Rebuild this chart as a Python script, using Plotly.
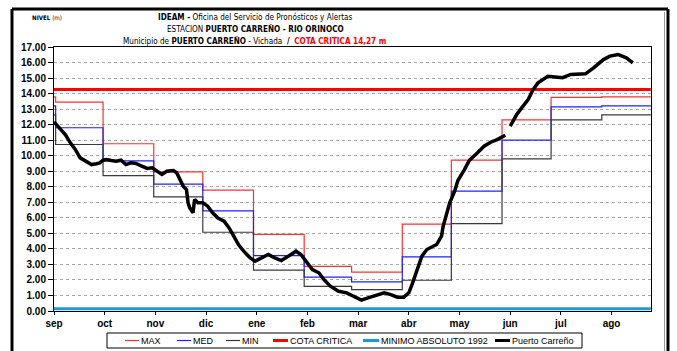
import plotly.graph_objects as go

# ---------------- data ----------------
months = ["sep", "oct", "nov", "dic", "ene", "feb", "mar", "abr", "may", "jun", "jul", "ago"]
# first day (index from 1 Sep) of each hydrological-year month (leap February)
month_start = [0, 30, 61, 91, 122, 153, 182, 213, 243, 274, 304, 335]
last_day = 365

# monthly statistics (m)
nivel_max = [13.45, 10.77, 8.96, 7.78, 4.93, 2.88, 2.50, 5.59, 9.71, 12.31, 13.75, 13.79]
nivel_med = [11.80, 9.67, 8.17, 6.45, 3.57, 2.18, 1.88, 3.49, 7.72, 11.00, 13.15, 13.21]
nivel_min = [10.72, 8.72, 7.35, 5.07, 2.63, 1.58, 1.38, 1.98, 5.62, 9.80, 12.31, 12.63]

cota_critica = 14.27
minimo_absoluto_1992 = 0.15

# observed level, Puerto Carreño (day index, m); None marks a gap in the record
pc_day = [0, 2, 4, 7, 10, 13, 16, 20, 23, 26, 28, 30, 32, 35, 38, 41, 44, 47, 50, 54,
          57, 60, 63, 66, 69, 73, 75, 77, 79, 81, 82, 83, 85, 86, 88, 91, 94, 97, 100, 104,
          107, 110, 113, 116, 119, 120, 123, 126, 131, 135, 139, 144, 148, 151, 155, 158,
          162, 165, 169, 174, 179, 183, 188, 192, 197, 202, 206, 210, 214, 217, 219, 221,
          223, 225, 228, 231, 234, 237, 238, 240, 242, 245, 247, 251, 254, 259, 263, 267,
          271, 276, 277, 279, 283, 286, 290, 293, 296, 302, 307, 311, 316, 321, 325, 330,
          336, 340, 345, 350, 354]
pc_level = [12.18, 11.95, 11.75, 11.35, 10.83, 10.40, 9.86, 9.58, 9.43, 9.48, 9.54, 9.71,
            9.76, 9.69, 9.65, 9.71, 9.43, 9.54, 9.50, 9.32, 9.18, 9.22, 9.00, 8.79, 9.00,
            9.05, 8.90, 8.47, 8.04, 7.82, 6.97, 6.65, 6.32, 7.18, 6.97, 6.97, 6.75, 6.32,
            6.00, 5.78, 5.36, 4.80, 4.25, 3.85, 3.50, 3.42, 3.21, 3.36, 3.64, 3.42, 3.25,
            3.57, 3.85, 3.64, 3.10, 2.67, 2.46, 2.03, 1.60, 1.27, 1.17, 0.95, 0.70, 0.85,
            1.02, 1.17, 1.06, 0.89, 0.89, 1.17, 1.71, 2.35, 2.88, 3.53, 3.96, 4.11, 4.28,
            4.82, 5.46, 6.21, 6.97, 7.71, 8.40, 9.10, 9.70, 10.19, 10.61, 10.87, 11.04,
            11.32, None, 11.90, 12.65, 13.08, 13.62, 14.26, 14.69, 15.12, 15.08, 15.02,
            15.23, 15.27, 15.27, 15.66, 16.19, 16.41, 16.52, 16.30, 15.98]

# ---------------- styles ----------------
series_style = {
    "MAX": dict(color="#ff3030", width=1.2),
    "MED": dict(color="#2020ff", width=1.2),
    "MIN": dict(color="#3a3a3a", width=1.2),
    "COTA CRITICA": dict(color="#ff0000", width=3),
    "MINIMO ABSOLUTO 1992": dict(color="#1c9ad6", width=3),
    "Puerto Carreño": dict(color="#000000", width=3.5),
}

FONT = "Liberation Sans, Arial, sans-serif"
NARROW = "DejaVu Sans Condensed, Liberation Sans, sans-serif"

fig = go.Figure()


def monthly_steps(values):
    # previous year's August value at day 0, then one level per month
    xs = [0] + [max(d, 1) for d in month_start] + [last_day]
    ys = [values[-1]] + values + [values[-1]]
    return xs, ys


for name, vals in [("MAX", nivel_max), ("MED", nivel_med), ("MIN", nivel_min)]:
    xs, ys = monthly_steps(vals)
    fig.add_trace(go.Scatter(x=xs, y=ys, mode="lines", name=name, line_shape="hv",
                             line=series_style[name], showlegend=False, hoverinfo="skip"))

fig.add_trace(go.Scatter(x=[0, last_day], y=[cota_critica] * 2, mode="lines",
                         name="COTA CRITICA", line=series_style["COTA CRITICA"],
                         showlegend=False))
fig.add_trace(go.Scatter(x=[0, last_day], y=[minimo_absoluto_1992] * 2, mode="lines",
                         name="MINIMO ABSOLUTO 1992",
                         line=series_style["MINIMO ABSOLUTO 1992"], showlegend=False))
fig.add_trace(go.Scatter(x=pc_day, y=pc_level, mode="lines", name="Puerto Carreño",
                         line=dict(series_style["Puerto Carreño"], shape="linear"),
                         connectgaps=False, showlegend=False))

W, H = 677, 351
ML, MR, MT, MB = 54, 26, 47, 40
PW, PH = W - ML - MR, H - MT - MB


def px_x(px):
    return (px - ML) / PW


def px_y(py):
    return (H - MB - py) / PH


fig.update_layout(
    width=W, height=H,
    margin=dict(l=ML, r=MR, t=MT, b=MB),
    paper_bgcolor="white", plot_bgcolor="white",
    font=dict(family=FONT, color="black"),
    showlegend=False,
)

fig.update_xaxes(
    range=[0, last_day + 0.1],
    tickmode="array",
    tickvals=[31 * i for i in range(len(months))],
    ticktext=[f"<b>{m}</b>" for m in months],
    tickfont=dict(size=10, family=FONT),
    ticks="outside", ticklen=3, tickcolor="black",
    showgrid=False, zeroline=False,
    showline=True, linecolor="black", linewidth=1, mirror=True,
)
fig.update_yaxes(
    range=[0, 17],
    tickmode="array",
    tickvals=list(range(0, 18)),
    ticktext=[f"<b>{v:.2f}</b>" for v in range(0, 18)],
    tickfont=dict(size=10, family=FONT),
    ticks="outside", ticklen=5, tickcolor="black",
    showgrid=True, gridcolor="#a8a8a8", gridwidth=1, griddash="dot",
    zeroline=False,
    showline=True, linecolor="black", linewidth=1, mirror=True,
)

# titles
tx = px_x(255)
title_size = 8.1
cota_txt = f"{cota_critica:.2f}".replace(".", ",")
fig.add_annotation(xref="paper", yref="paper", x=tx, y=px_y(17), xanchor="center",
                   yanchor="middle", showarrow=False,
                   text="<b>IDEAM -</b> Oficina del Servicio de Pronósticos y Alertas",
                   font=dict(size=title_size, family=NARROW))
fig.add_annotation(xref="paper", yref="paper", x=tx, y=px_y(29), xanchor="center",
                   yanchor="middle", showarrow=False,
                   text="ESTACION <b>PUERTO CARREÑO - RIO ORINOCO</b>",
                   font=dict(size=title_size, family=NARROW))
fig.add_annotation(xref="paper", yref="paper", x=tx, y=px_y(41), xanchor="center",
                   yanchor="middle", showarrow=False,
                   text=("Municipio de <b>PUERTO CARREÑO</b> - Vichada  <b>/</b>  "
                         f"<b><span style='color:#ff0000'>COTA CRITICA {cota_txt} m</span></b>"),
                   font=dict(size=title_size, family=NARROW))
fig.add_annotation(xref="paper", yref="paper", x=px_x(30), y=px_y(17), xanchor="left",
                   yanchor="middle", showarrow=False,
                   text="<b>NIVEL</b> (m)", font=dict(size=6.2, family=NARROW))

# outer frame
frame = dict(type="line", xref="paper", yref="paper", line=dict(color="black", width=3))
fig.add_shape(frame, x0=px_x(12), x1=px_x(668), y0=px_y(9), y1=px_y(9))
fig.add_shape(frame, x0=px_x(12), x1=px_x(12), y0=px_y(9), y1=px_y(360))
fig.add_shape(frame, x0=px_x(668), x1=px_x(668), y0=px_y(9), y1=px_y(360))
fig.add_shape(type="line", xref="paper", yref="paper", line=dict(color="#9a9a9a", width=1),
              x0=px_x(664.5), x1=px_x(664.5), y0=px_y(12), y1=px_y(360))

# legend box drawn below the plot
fig.add_shape(type="rect", xref="paper", yref="paper", line=dict(color="black", width=1),
              fillcolor="white", x0=px_x(107), x1=px_x(582), y0=px_y(333), y1=px_y(348))
legend_slots = {  # line start, line end (px)
    "MAX": (125, 139), "MED": (177, 191), "MIN": (226, 240),
    "COTA CRITICA": (273, 288), "MINIMO ABSOLUTO 1992": (363, 379),
    "Puerto Carreño": (495, 510),
}
ly = px_y(340.5)
for name, (a, b) in legend_slots.items():
    st = series_style[name]
    fig.add_shape(type="line", xref="paper", yref="paper", x0=px_x(a), x1=px_x(b),
                  y0=ly, y1=ly, line=dict(color=st["color"], width=min(st["width"], 3)))
    fig.add_annotation(xref="paper", yref="paper", x=px_x(b), y=ly, xanchor="left",
                       yanchor="middle", showarrow=False, text=name,
                       font=dict(size=9, family=FONT))

fig.write_html("out.html")
